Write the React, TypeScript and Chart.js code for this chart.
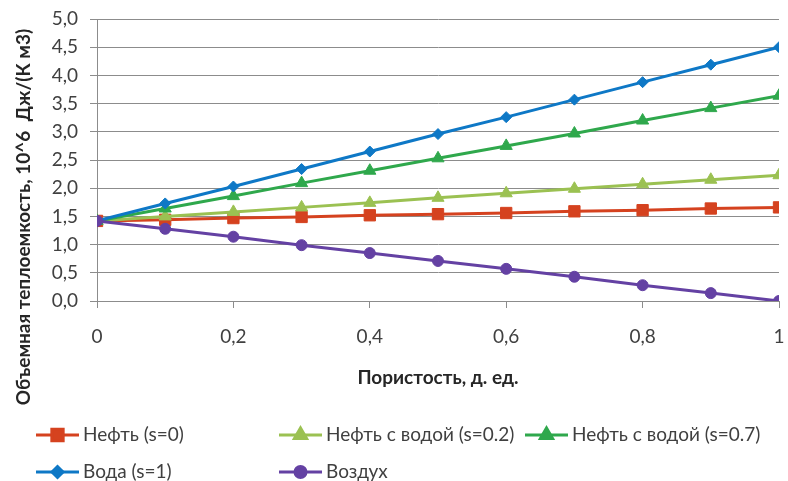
import React, { useEffect, useRef } from "react";
import { Chart, registerables } from "chart.js";
import { drawPoint } from "chart.js/helpers";

Chart.register(...registerables);

const porosity = [0, 0.1, 0.2, 0.3, 0.4, 0.5, 0.6, 0.7, 0.8, 0.9, 1];
const oilS0 = [1.42, 1.44, 1.47, 1.49, 1.52, 1.54, 1.56, 1.59, 1.61, 1.64, 1.66];
const oilS02 = [1.42, 1.5, 1.58, 1.66, 1.74, 1.83, 1.91, 1.99, 2.07, 2.15, 2.23];
const oilS07 = [1.42, 1.64, 1.86, 2.09, 2.31, 2.53, 2.75, 2.97, 3.2, 3.42, 3.64];
const water = [1.42, 1.73, 2.03, 2.34, 2.65, 2.96, 3.26, 3.57, 3.88, 4.19, 4.5];
const air = [1.42, 1.28, 1.14, 0.99, 0.85, 0.71, 0.57, 0.43, 0.28, 0.14, 0.0];

const xTickLabels = ["0", "0,2", "0,4", "0,6", "0,8", "1"];
const yTickLabels = ["0,0", "0,5", "1,0", "1,5", "2,0", "2,5", "3,0", "3,5", "4,0", "4,5", "5,0"];

const seriesNames = [
  "Нефть (s=0)",
  "Нефть с водой (s=0.2)",
  "Нефть с водой (s=0.7)",
  "Вода (s=1)",
  "Воздух",
];
const seriesColors = ["#D5421F", "#9BC152", "#2FA84C", "#0E78C6", "#6441A3"];
const seriesStyles = ["rect", "triangle", "triangle", "rectRot", "circle"];
const seriesRadius = [8, 7, 7, 5.5, 5.5];
const seriesValues = [oilS0, oilS02, oilS07, water, air];

const yTitle = "Объемная теплоемкость, 10^6  Дж/(К м3)";
const xTitle = "Пористость, д. ед.";

const FONT = "Lato, 'Open Sans', 'Noto Sans', sans-serif";

const legendPlugin = {
  id: "customLegend",
  afterDraw(chart: any) {
    const ctx = chart.ctx;
    const rows = [435, 472];
    const cols = [36, 279, 525];
    const pos = [
      [0, 0],
      [0, 1],
      [0, 2],
      [1, 0],
      [1, 1],
    ];
    ctx.save();
    seriesNames.forEach((name, i) => {
      const [r, c] = pos[i];
      const y = rows[r];
      const x0 = cols[c];
      const x1 = x0 + 43;
      ctx.strokeStyle = seriesColors[i];
      ctx.lineWidth = 3;
      ctx.beginPath();
      ctx.moveTo(x0, y);
      ctx.lineTo(x1, y);
      ctx.stroke();
      ctx.fillStyle = seriesColors[i];
      drawPoint(
        ctx,
        {
          pointStyle: seriesStyles[i],
          radius: seriesRadius[i],
          borderWidth: 1,
          rotation: 0,
        } as any,
        (x0 + x1) / 2,
        y
      );
      ctx.fillStyle = "#404040";
      ctx.font = `19px ${FONT}`;
      ctx.textAlign = "left";
      ctx.textBaseline = "middle";
      ctx.fillText(name, x1 + 4, y);
    });
    // y title
    ctx.translate(24, 217);
    ctx.rotate(-Math.PI / 2);
    ctx.fillStyle = "#262626";
    ctx.font = `bold 19px ${FONT}`;
    ctx.textAlign = "center";
    ctx.textBaseline = "middle";
    ctx.fillText(yTitle, 0, 0);
    ctx.restore();
  },
};

export default function App() {
  const ref = useRef<HTMLCanvasElement>(null);
  useEffect(() => {
    if (!ref.current) return;
    const chart = new Chart(ref.current, {
      type: "line",
      data: {
        datasets: seriesNames.map((name, i) => ({
          label: name,
          data: porosity.map((x, j) => ({ x, y: seriesValues[i][j] })),
          borderColor: seriesColors[i],
          backgroundColor: seriesColors[i],
          pointBackgroundColor: seriesColors[i],
          pointBorderColor: seriesColors[i],
          pointStyle: seriesStyles[i] as any,
          pointRadius: seriesRadius[i],
          pointBorderWidth: 1,
          borderWidth: 3,
          tension: 0,
          order: 5 - i,
        })),
      },
      options: {
        animation: false,
        responsive: false,
        events: [],
        layout: { padding: { left: 0, right: 9, top: 19, bottom: 80 } },
        plugins: {
          legend: { display: false },
          tooltip: { enabled: false },
        },
        scales: {
          x: {
            type: "linear",
            min: 0,
            max: 1,
            afterBuildTicks: (scale: any) => {
              scale.ticks = xTickLabels.map((_, i) => ({ value: i * 0.2 }));
            },
            afterFit: (scale: any) => {
              scale.height = 100;
              scale.paddingLeft = 0;
              scale.paddingRight = 0;
            },
            ticks: {
              callback: (_v: any, i: number) => xTickLabels[i],
              color: "#404040",
              font: { family: FONT, size: 19 },
              padding: 17,
              maxRotation: 0,
              autoSkip: false,
            },
            grid: {
              drawOnChartArea: false,
              drawTicks: true,
              tickLength: 7,
              color: "#8C8C8C",
            },
            border: { color: "#8C8C8C", width: 1 },
            title: {
              display: true,
              text: xTitle,
              color: "#262626",
              font: { family: FONT, size: 19, weight: "bold" },
              padding: { top: 0, bottom: 12 },
            },
          },
          y: {
            type: "linear",
            min: 0,
            max: 5,
            afterBuildTicks: (scale: any) => {
              scale.ticks = yTickLabels.map((_, i) => ({ value: i * 0.5 }));
            },
            afterFit: (scale: any) => {
              scale.width = 97;
              scale.paddingTop = 0;
              scale.paddingBottom = 0;
            },
            ticks: {
              callback: (_v: any, i: number) => yTickLabels[i],
              color: "#404040",
              font: { family: FONT, size: 19 },
              padding: 12,
              autoSkip: false,
            },
            grid: {
              color: "#8C8C8C",
              tickLength: 7,
              drawTicks: true,
            },
            border: { color: "#8C8C8C", width: 1 },
          },
        },
      },
      plugins: [legendPlugin],
    });
    return () => chart.destroy();
  }, []);
  return (
    <div style={{ position: "fixed", left: 0, top: 0, width: 788, height: 481, background: "#fff" }}>
      <canvas ref={ref} width={788} height={481} />
    </div>
  );
}
